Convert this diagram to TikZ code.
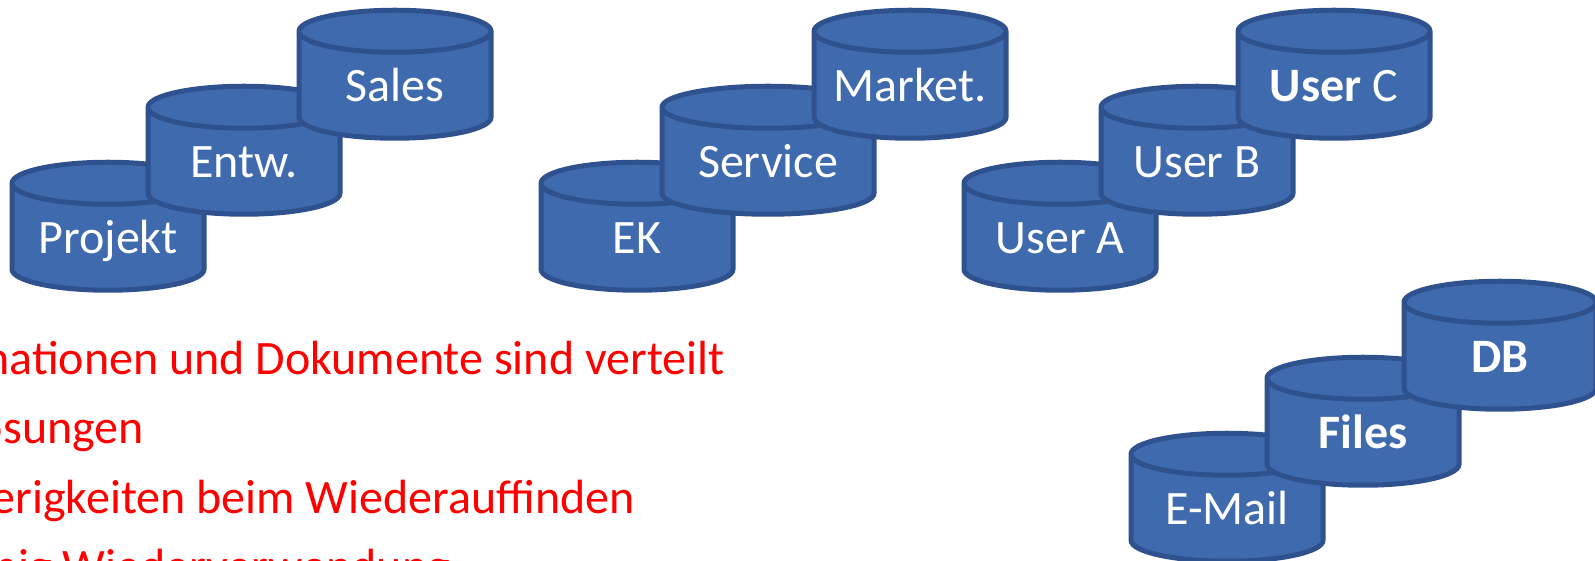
\documentclass[tikz,border=0pt]{standalone}
\usepackage{fontspec}
\setmainfont{Carlito}
\usepackage{tikz}
\usetikzlibrary{positioning,shapes.geometric}
\definecolor{cylfill}{HTML}{3F6BAE}
\definecolor{cylline}{HTML}{2F528F}
\newcommand{\storetext}[1]{\makebox[100pt]{\raisebox{-15.5pt}[0pt][0pt]{#1}}}
\begin{document}
\begin{tikzpicture}[
    x=1pt,
    y=1pt,
    node distance=136pt,
    font=\fontsize{48}{56}\selectfont,
    store/.style={
		cylinder,
		shape border rotate=90,
		aspect=0.42,
		draw=cylline,
		line width=5pt,
		fill=cylfill,
		text=white,
		inner sep=0pt,
		minimum height=128pt,
		minimum width=192pt
	},
	issue/.style={
		text=red,
		anchor=base east,
		inner sep=0pt
	}
  ]
 \useasboundingbox (0,0) rectangle (1595,561);

% departments
 \node [store] (projekt) at (108,323) {\storetext{Projekt}};
 \node [store, right of=projekt, yshift=76pt] (entw) {\storetext{Entw.}};
 \node [store, right of=entw, xshift=15pt, yshift=76pt] (sales) {\storetext{Sales}};

% purchasing etc.
 \node [store] (ek) at (637,323) {\storetext{EK}};
 \node [store, right of=ek, xshift=-5pt, yshift=76pt, minimum width=212pt] (service) {\storetext{Service}};
 \node [store, right of=service, xshift=6pt, yshift=76pt] (market) {\storetext{Market.}};

% users
 \node [store] (usera) at (1060,323) {\storetext{User A}};
 \node [store, right of=usera, xshift=1pt, yshift=76pt] (userb) {\storetext{User B}};
 \node [store, right of=userb, xshift=1pt, yshift=76pt] (userc) {\storetext{\textbf{User} C}};

% storage
 \node [store] (email) at (1227,52) {\storetext{E-Mail}};
 \node [store, right of=email, yshift=76pt] (files) {\storetext{\textbf{Files}}};
 \node [store, right of=files, xshift=1pt, yshift=76pt] (db) {\storetext{\textbf{DB}}};

% problems
 \node [issue] (verteilt) at (725,186) {nationen und Dokumente sind verteilt};
 \node [issue] (insel) at (144,117) {osungen};
 \node [issue] (wieder) at (635,47) {erigkeiten beim Wiederauffinden};
 \node [issue] (wenig) at (450,-22) {nig Wiederverwendung};
\end{tikzpicture}
\end{document}
